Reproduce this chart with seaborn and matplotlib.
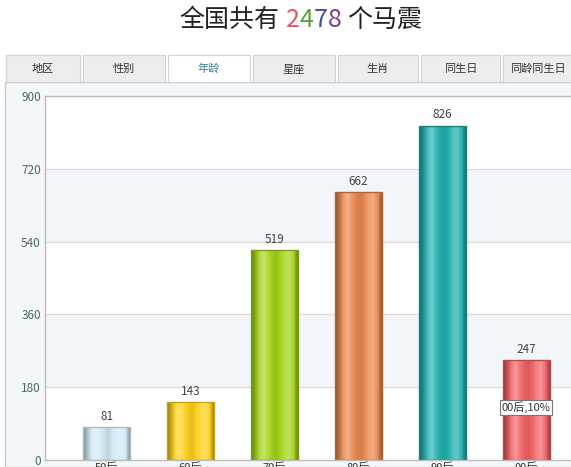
import numpy as np
import matplotlib
matplotlib.use("Agg")
import matplotlib.pyplot as plt
from matplotlib.patches import Rectangle
from matplotlib.colors import to_rgb
import seaborn as sns

# ---- data ----
age_groups = ['50后', '60后', '70后', '80后', '90后', '00后']
counts = [81, 143, 519, 662, 826, 247]
bar_colors = ['#d4ebf7', '#ffd21e', '#a6d61e', '#eb8a52', '#26b0b0', '#f26468']
edge_colors = ['#a8bcc6', '#c8a010', '#7e9e18', '#b0643a', '#1a8080', '#b84a50']
tabs = ['地区', '性别', '年龄', '星座', '生肖', '同生日', '同龄同生日']
active_tab = '年龄'
title_parts = ['全国共有', '2', '4', '7', '8', '个马震']
title_colors = ['#222222', '#e0566e', '#5e9c34', '#3c4ea0', '#7c3c8c', '#222222']
tooltip_text = '00后,10%'
y_ticks = [0, 180, 360, 540, 720, 900]

sns.set_theme(style='white')
plt.rcParams['font.family'] = ['Noto Sans CJK SC', 'DejaVu Sans']

W, H = 571, 467
fig = plt.figure(figsize=(W / 100, H / 100), dpi=100)
fig.patch.set_facecolor('white')


def fx(px):
    return px / W


def fy(py):
    return 1 - py / H


# outer panel and y-label strip
fig.patches.append(Rectangle((fx(5), fy(467)), fx(566), 385 / H, transform=fig.transFigure,
                             facecolor='#f4f7f9', edgecolor='#c8c8c8', lw=1, zorder=-2))

# tabs
tab_edges = [5, 82, 167, 252, 337, 420, 502, 575]
for i, name in enumerate(tabs):
    x0, x1 = tab_edges[i] + 1, tab_edges[i + 1] - 2
    active = name == active_tab
    fig.patches.append(Rectangle((fx(x0), fy(82)), fx(x1 - x0), 27 / H, transform=fig.transFigure,
                                 facecolor='white' if active else '#ededed',
                                 edgecolor='#d2d2d2', lw=0.8, zorder=-1))
    fig.text(fx((x0 + x1) / 2), fy(69), name, ha='center', va='center', fontsize=8,
             color='#3a7f95' if active else '#333333')

# plot area
ax = fig.add_axes([fx(45), fy(460), fx(W - 45) + 0.01, 364 / H])
ax.set_zorder(1)
ax.set_facecolor('white')

sns.barplot(x=age_groups, y=counts, hue=age_groups, palette=bar_colors, legend=False,
            width=46 / 83, ax=ax, zorder=2, saturation=1)
bars = list(ax.patches)

ax.axhspan(540, 720, facecolor='#f2f6fa', edgecolor='none', zorder=0)
ax.axhspan(180, 360, facecolor='#f2f6fa', edgecolor='none', zorder=0)
for t in y_ticks[1:]:
    ax.axhline(t, color='#dcdcdc', lw=1, zorder=0.5)

# cylinder shading on each bar
shade = np.array([0.6, 0.82, 1.15, 1.35, 1.1, 0.95, 0.9, 1.0, 1.2, 1.3, 1.05, 0.65])
for p, c, ec in zip(bars, bar_colors, edge_colors):
    base = np.array(to_rgb(c))
    cols = []
    for s in shade:
        if s >= 1:
            cols.append(base + (1 - base) * (s - 1))
        else:
            cols.append(base * s)
    cols = np.clip(np.array(cols), 0, 1)
    xs = np.linspace(0, len(shade) - 1, 60)
    grad = np.stack([np.interp(xs, np.arange(len(shade)), cols[:, k]) for k in range(3)], axis=-1)
    x0, w, h = p.get_x(), p.get_width(), p.get_height()
    im = ax.imshow(grad[np.newaxis, :, :], extent=[x0, x0 + w, 0, h], aspect='auto',
                   zorder=2.5, interpolation='bilinear')
    im.set_clip_path(p)
    p.set_edgecolor(ec)
    p.set_linewidth(1)
    p.set_zorder(3)
    p.set_facecolor('none')
    ax.text(x0 + w / 2, h + 11, str(int(h)), ha='center', va='bottom', fontsize=8.5,
            color='#444444', zorder=4)

ax.set_xlim(-0.735, 5.6)
ax.set_ylim(0, 900)
ax.set_yticks(y_ticks)
ax.tick_params(axis='y', labelsize=8.5, labelcolor='#4a666e', length=0, pad=3)
ax.tick_params(axis='x', labelsize=8, labelcolor='#333333', length=0, pad=1.5)
ax.set_xlabel('')
ax.set_ylabel('')
for side in ['left', 'top', 'bottom']:
    ax.spines[side].set_color('#bcbcbc')
    ax.spines[side].set_linewidth(1)
ax.spines['right'].set_visible(False)

# tooltip
ax.text(5, 130, tooltip_text, ha='center', va='center', fontsize=8, color='#333333', zorder=5,
        bbox=dict(boxstyle='square,pad=0.15', facecolor='white', edgecolor='#777777', lw=0.8))

# multicolour title
renderer = fig.canvas.get_renderer()
gaps = [6, 0, 0, 0, 6, 0]
pieces = []
for txt, col in zip(title_parts, title_colors):
    t = fig.text(0, fy(20), txt, fontsize=18, color=col, ha='left', va='center')
    pieces.append(t)
widths = [t.get_window_extent(renderer).width for t in pieces]
total = sum(widths) + sum(gaps)
x = 301 - total / 2
for t, w, g in zip(pieces, widths, gaps):
    t.set_x(fx(x))
    x += w + g

fig.savefig('out.png', dpi=100)
